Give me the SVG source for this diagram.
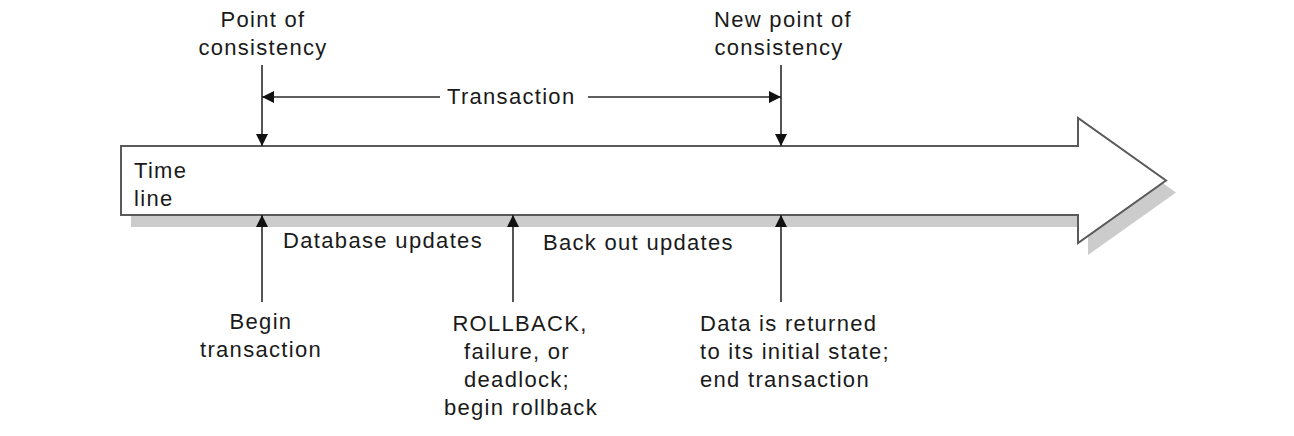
<svg xmlns="http://www.w3.org/2000/svg" width="1294" height="436" viewBox="0 0 1294 436">
<style>
text{font-family:"Liberation Sans",Arial,sans-serif;font-size:22px;fill:#1a1a1a;letter-spacing:1.3px}
.c{text-anchor:middle}
.ln{stroke:#2a2a2a;stroke-width:1.6;fill:none}
</style>
<defs>
<marker id="ah" viewBox="0 0 12 12" refX="12" refY="6" markerWidth="12" markerHeight="12" markerUnits="userSpaceOnUse" orient="auto">
<path d="M0,0 L12,6 L0,12 Z" fill="#111"/>
</marker>
</defs>
<rect width="1294" height="436" fill="#fff"/>
<g id="timeline">
<polygon points="121,146 1078,146 1078,118 1166,180.5 1078,243 1078,215 121,215" fill="#cccccc" transform="translate(10,12)"/>
<polygon points="121,146 1078,146 1078,118 1166,180.5 1078,243 1078,215 121,215" fill="#fff" stroke="#5a5a5a" stroke-width="2"/>
<text x="134" y="178">Time</text>
<text x="134" y="206">line</text>
</g>
<g id="connectors">
<line class="ln" x1="262" y1="65" x2="262" y2="146" marker-end="url(#ah)"/>
<line class="ln" x1="781" y1="65" x2="781" y2="146" marker-end="url(#ah)"/>
<line class="ln" x1="440" y1="97" x2="262" y2="97" marker-end="url(#ah)"/>
<line class="ln" x1="588" y1="97" x2="781" y2="97" marker-end="url(#ah)"/>
<line class="ln" x1="262" y1="302" x2="262" y2="215" marker-end="url(#ah)"/>
<line class="ln" x1="513" y1="302" x2="513" y2="215" marker-end="url(#ah)"/>
<line class="ln" x1="781" y1="302" x2="781" y2="215" marker-end="url(#ah)"/>
</g>
<g id="point-of-consistency">
<text class="c" x="263" y="27">Point of</text>
<text class="c" x="263" y="55">consistency</text>
</g>
<g id="new-point-of-consistency">
<text class="c" x="783" y="27">New point of</text>
<text class="c" x="779" y="55">consistency</text>
</g>
<g id="transaction">
<text x="447" y="104">Transaction</text>
</g>
<g id="database-updates">
<text x="283" y="248" textLength="200" lengthAdjust="spacing">Database updates</text>
</g>
<g id="back-out-updates">
<text x="543" y="250">Back out updates</text>
</g>
<g id="begin-transaction">
<text class="c" x="261" y="329">Begin</text>
<text class="c" x="261" y="357">transaction</text>
</g>
<g id="rollback">
<text class="c" x="520" y="331">ROLLBACK,</text>
<text class="c" x="517" y="359">failure, or</text>
<text class="c" x="517" y="387">deadlock;</text>
<text class="c" x="521" y="415">begin rollback</text>
</g>
<g id="end-transaction">
<text x="700" y="331">Data is returned</text>
<text x="700" y="359">to its initial state;</text>
<text x="700" y="387">end transaction</text>
</g>
</svg>
